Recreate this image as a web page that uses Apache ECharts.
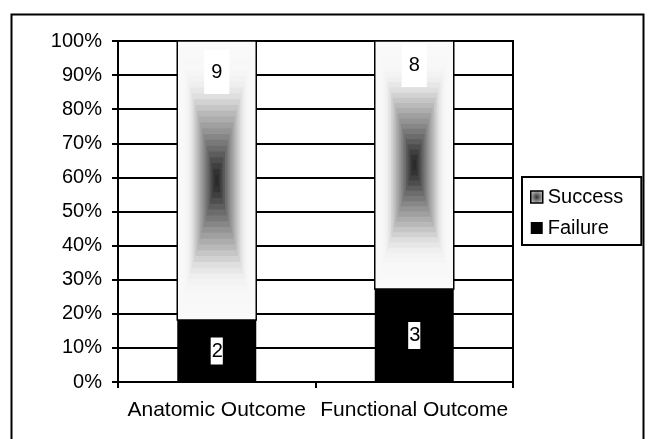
<!DOCTYPE html>
<html>
<head>
<meta charset="utf-8">
<script src="https://cdn.jsdelivr.net/npm/echarts@6/dist/echarts.min.js"></script>
<style>
html,body{margin:0;padding:0;background:#fff;}
#chart{width:650px;height:439px;}
</style>
</head>
<body>
<div id="chart"></div>
<script>
// ---- data ----
const categories = ['Anatomic Outcome', 'Functional Outcome'];
const failure = [2, 3];
const success = [9, 8];
const yTicks = [0, 10, 20, 30, 40, 50, 60, 70, 80, 90, 100];

// ---- derived percentages ----
const totals = failure.map((f, i) => f + success[i]);
const failPct = failure.map((f, i) => f / totals[i] * 100);
const succPct = success.map((s, i) => s / totals[i] * 100);

// ---- style ----
const FONT = "'Liberation Sans', Arial, sans-serif";
const successLabelDistance = [9, 2];
const shadeStops = [[0, 250], [0.2, 247], [0.3, 238], [0.37, 224], [0.45, 200], [0.55, 170], [0.65, 140], [0.75, 108], [0.85, 72], [0.92, 50], [1, 35]];
function shadeAt(t) {
  for (let j = 1; j < shadeStops.length; j++) {
    if (t <= shadeStops[j][0]) {
      const a = shadeStops[j - 1], b = shadeStops[j];
      const v = a[1] + (b[1] - a[1]) * (t - a[0]) / (b[0] - a[0]);
      const c = Math.round(v);
      return 'rgb(' + c + ',' + c + ',' + c + ')';
    }
  }
  return 'rgb(35,35,35)';
}

const chart = echarts.init(document.getElementById('chart'));
chart.setOption({
  animation: false,
  backgroundColor: '#fff',
  textStyle: { fontFamily: FONT },
  graphic: [{
    type: 'rect', left: 9, top: 12, silent: true,
    shape: { x: 0, y: 0, width: 632, height: 440 },
    style: { fill: 'none', stroke: '#000', lineWidth: 2 }
  }],
  grid: { left: 118, right: 137, top: 41, bottom: 57, show: true, borderColor: '#000', borderWidth: 2, backgroundColor: 'transparent' },
  legend: {
    orient: 'vertical', left: 522, top: 177,
    borderColor: '#000', borderWidth: 2, padding: [10, 18, 7, 8],
    itemGap: 11, itemWidth: 12, itemHeight: 12,
    textStyle: { fontSize: 20, color: '#000', fontFamily: FONT },
    data: [
      { name: 'Success', icon: 'rect', itemStyle: { color: { type: 'radial', x: 0.5, y: 0.5, r: 0.5, colorStops: [{ offset: 0, color: '#333' }, { offset: 0.5, color: '#777' }, { offset: 1, color: '#bbb' }] }, borderColor: '#000', borderWidth: 1.5 } },
      { name: 'Failure', icon: 'rect', itemStyle: { color: '#000' } }
    ]
  },
  xAxis: {
    type: 'category', data: categories,
    axisLine: { lineStyle: { color: '#000', width: 2 } },
    axisTick: { show: true, length: 6, lineStyle: { color: '#000', width: 2 } },
    axisLabel: { fontSize: 21, color: '#000', margin: 18, interval: 0, fontFamily: FONT }
  },
  yAxis: {
    type: 'value', min: 0, max: 100, interval: 10,
    axisLine: { show: true, lineStyle: { color: '#000', width: 2 } },
    axisTick: { show: true, length: 6, lineStyle: { color: '#000', width: 2 } },
    axisLabel: { fontSize: 20, color: '#000', margin: 16, formatter: '{value}%', fontFamily: FONT },
    splitLine: { show: true, lineStyle: { color: '#000', width: 2 } }
  },
  series: [
    {
      name: 'SuccessFill', type: 'custom', z: 1, silent: true,
      data: categories.map((c, i) => [i, failPct[i], 100]),
      encode: { x: 0, y: [1, 2] },
      renderItem: function (params, api) {
        const i = api.value(0);
        const top = api.coord([i, api.value(2)]);
        const bot = api.coord([i, api.value(1)]);
        const w = api.size([1, 0])[0] * 0.4;
        const x0 = top[0] - w / 2, y0 = top[1], h = bot[1] - top[1];
        const N = 24;
        const children = [];
        for (let k = 0; k < N; k++) {
          const t = k / N;
          const dx = t * w / 2, dy = t * h / 2;
          children.push({ type: 'rect', shape: { x: x0 + dx, y: y0 + dy, width: w - 2 * dx, height: h - 2 * dy }, style: { fill: shadeAt(t) } });
        }
        children.push({ type: 'rect', shape: { x: x0, y: y0, width: w, height: h }, style: { fill: 'none', stroke: '#000', lineWidth: 1.5 } });
        return { type: 'group', children: children };
      }
    },
    {
      name: 'Failure', type: 'bar', stack: 'total', barWidth: '40%', z: 2,
      itemStyle: { color: '#000' },
      data: failPct,
      label: {
        show: true, position: 'inside',
        formatter: p => String(failure[p.dataIndex]),
        fontSize: 20, color: '#000', backgroundColor: '#fff', padding: [4, 0, 3, 1], fontFamily: FONT
      }
    },
    {
      name: 'Success', type: 'bar', stack: 'total', barWidth: '40%', z: 2,
      itemStyle: { color: 'rgba(0,0,0,0)' },
      data: succPct.map((v, i) => ({ value: v, label: { distance: successLabelDistance[i] } })),
      label: {
        show: true, position: 'insideTop',
        formatter: p => String(success[p.dataIndex]),
        fontSize: 20, color: '#000', backgroundColor: '#fff', padding: [12, 7, 12, 7], fontFamily: FONT
      }
    }
  ]
});
</script>
</body>
</html>
